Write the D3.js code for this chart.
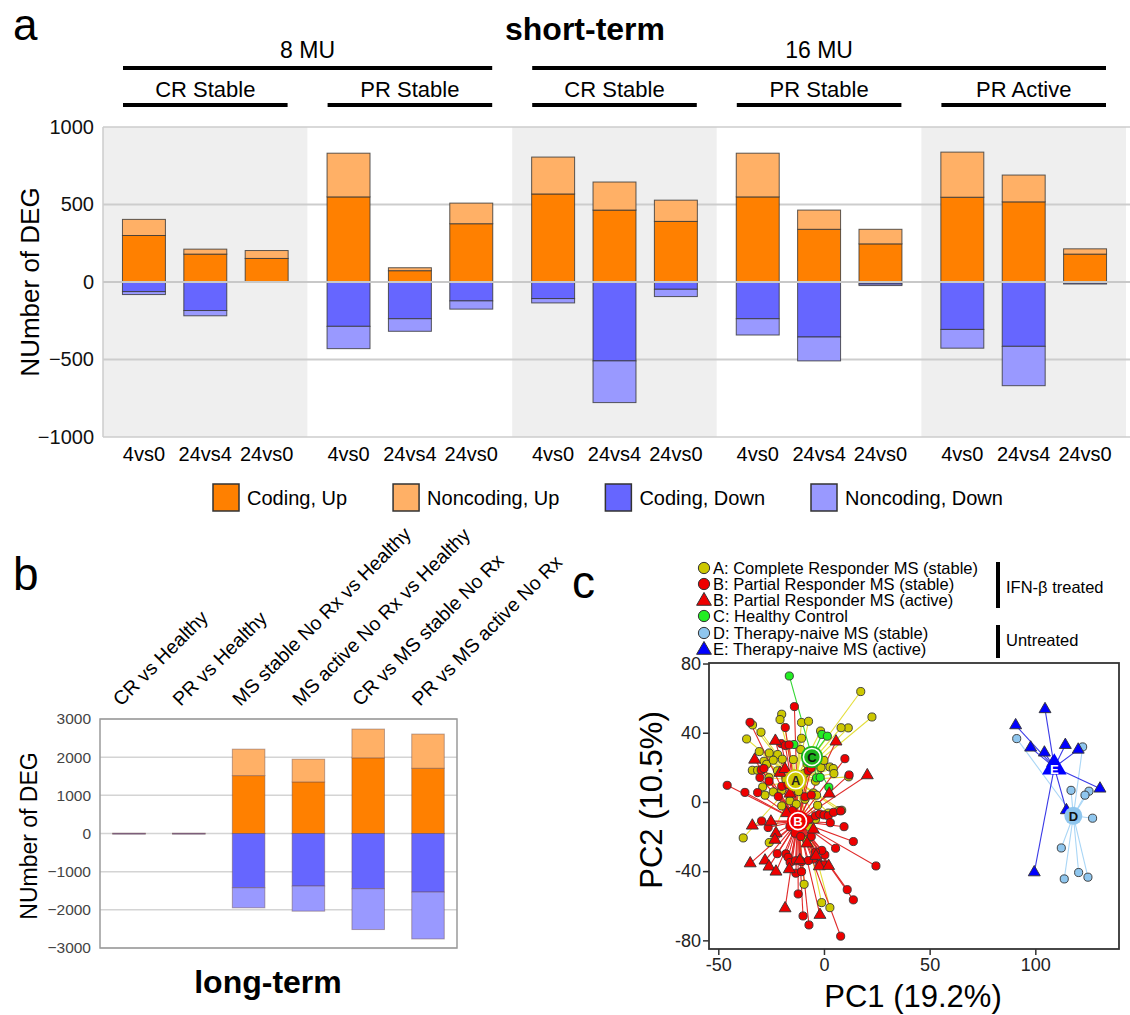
<!DOCTYPE html>
<html>
<head>
<meta charset="utf-8">
<script src="https://cdn.jsdelivr.net/npm/d3@7"></script>
<style>
body { margin: 0; background: #fff; }
text { font-family: "Liberation Sans", Arial, sans-serif; }
</style>
</head>
<body>
<div id="fig"></div>
<script>
var width = 1130, height = 1015;

// ---- panel a : short-term ----
var groups = ["8MU CR", "8MU PR", "16MU CR", "16MU PR", "16MU PRA"];
var groupLabels = ["CR Stable", "PR Stable", "CR Stable", "PR Stable", "PR Active"];
var doseLabels = ["8 MU", "16 MU"];
var doseSpan = [[0, 1], [2, 4]];
var comparisons = ["4vs0", "24vs4", "24vs0"];
var codingUp      = [300, 180, 152,  549,  73, 376,  568, 464, 391,  549, 340, 246,  547, 517, 180];
var noncodingUp   = [104,  32,  51,  282,  19, 133,  238, 181, 137,  282, 124,  94,  291, 173,  34];
var codingDown    = [ 62, 184,   0,  286, 237, 122,  107, 509,  47,  237, 355,  13,  306, 415,   6];
var noncodingDown = [ 19,  34,   0,  144,  81,  53,   28, 269,  47,  105, 154,  10,  121, 254,   7];
var shortTicks = [-1000, -500, 0, 500, 1000];

var seriesNames = ["Coding, Up", "Noncoding, Up", "Coding, Down", "Noncoding, Down"];
var seriesColors = ["#ff8000", "#ffb066", "#6666ff", "#9999ff"];

// ---- panel b : long-term ----
var longCats = ["CR vs Healthy", "PR vs Healthy", "MS stable No Rx vs Healthy",
                "MS active No Rx vs Healthy", "CR vs MS stable No Rx", "PR vs MS active No Rx"];
var longCodingUp      = [8, 8, 1517, 1351, 1982, 1710];
var longNoncodingUp   = [0, 0,  693,  596,  754,  895];
var longCodingDown    = [8, 8, 1421, 1377, 1447, 1535];
var longNoncodingDown = [0, 0,  526,  658, 1070, 1228];
var longTicks = [-3000, -2000, -1000, 0, 1000, 2000, 3000];

// ---- panel c : PCA ----
var ptsA = [[17.4,63.8],[22.7,49.1],[11.5,42.8],[8.1,42.9],[-20.0,50.7],[-20.8,47.6],[-10.6,45.9],[-7.3,46.6],
  [-33.8,44.5],[-29.8,40.3],[-36.6,36.4],[-10.6,36.8],[-1.6,41.0],[-30.6,29.1],[-25.9,28.3],[-21.9,27.4],
  [-33.9,18.3],[-31.4,18.3],[-28.4,23.5],[-27.1,21.8],[-24.0,24.1],[-19.7,24.7],[-14.5,24.5],[-11.0,30.3],
  [2.8,20.2],[4.4,19.3],[4.7,16.4],[11.7,14.5],[-1.4,19.8],[-29.0,8.7],[-27.9,3.9],[-24.0,5.8],[-20.0,6.7],
  [-16.1,9.6],[-5.0,5.2],[-3.5,3.9],[8.4,-4.8],[2.1,-6.4],[-20.0,-2.3],[-16.1,0.6],[-13.1,-1.3],[-38.2,-20.8],
  [-25.9,-23.5],[-13.7,-13.5],[-6.9,-14.5],[-11.4,-33.7],[-9.4,-47.6],[-1.1,-58.2],[2.8,-61.1],[-9.0,1.5],
  [-9.3,16.4],[-18.0,13.0],[-22.0,18.0],[-8.0,22.0],[-4.0,12.0],[0.0,24.0],[-26.0,14.0],[-12.0,6.0],
  [7.0,-5.0],[-4.0,-10.0],[-8.0,-22.0],[-3.0,-2.0]];
var ptsB = [[-14.0,55.1],[-35.0,46.0],[-18.3,43.0],[-20.2,33.7],[-18.3,32.6],[-16.5,33.0],[9.9,25.0],[11.9,15.6],
  [-45.8,9.6],[-37.4,5.5],[-31.4,5.4],[-30.3,14.1],[-29.7,18.5],[-28.4,19.3],[-26.0,12.0],[-21.6,3.1],[-20.0,9.0],
  [-17.0,10.0],[-14.0,16.0],[-7.5,18.0],[-6.0,19.5],[-9.0,3.0],[-6.0,4.0],[-29.5,-11.0],[-26.4,-14.8],
  [-16.1,-14.3],[-13.7,-18.1],[-9.0,-12.0],[-7.0,-10.0],[-4.0,-8.0],[-2.0,-7.0],[0.0,-7.5],[2.0,-8.0],[4.5,-6.0],
  [7.9,-5.2],[9.5,-14.3],[13.9,-22.9],[5.5,-26.8],[0.4,-30.6],[-1.0,-28.0],[-4.0,-29.0],[-5.0,-33.0],[-2.0,-36.0],
  [-22.1,-29.9],[-18.0,-30.0],[-17.0,-32.0],[-16.0,-35.0],[-13.5,-34.0],[-10.6,-34.5],[-7.4,-33.9],[-13.3,-41.2],
  [-10.6,-40.3],[0.0,-36.4],[24.6,-37.0],[-12.2,-53.2],[11.0,-50.7],[13.9,-56.6],[-9.9,-65.9],[-7.1,-71.1],
  [7.9,-77.6],[-15.0,-5.0],[-11.0,-20.0],[-6.0,-20.0],[3.0,-12.0]];
var ptsBact = [[-23.0,35.3],[5.7,34.9],[-32.8,24.4],[-20.8,16.8],[-18.5,19.0],[20.5,15.4],[2.5,4.8],[-16.1,4.8],
  [-33.9,-13.7],[-25.1,-11.4],[-22.7,-18.1],[-23.2,-21.9],[-17.7,-6.5],[-34.9,-35.5],[-27.9,-33.9],[-26.0,-37.4],
  [-22.7,-40.3],[-16.4,-38.9],[-11.4,-33.7],[-3.8,-31.2],[-2.2,-37.2],[2.2,-37.0],[-18.4,-61.5],[-1.9,-65.3],
  [-8.0,-24.0],[-5.0,-16.0]];
var ptsC = [[-16.4,72.8],[-14.2,33.2],[-1.0,39.0],[1.6,38.0],[-3.5,13.9],[-1.8,14.2],[2.3,8.5]];
var ptsD = [[91.2,36.6],[122.4,31.8],[116.9,6.7],[125.4,6.2],[123.5,3.9],[127.1,-9.4],[112.3,-26.6],
  [113.7,-44.5],[120.5,-40.8],[124.9,-43.5]];
var ptsE = [[104.6,53.6],[90.7,44.3],[97.8,31.4],[104.3,28.5],[114.2,32.9],[120.3,30.2],[108.2,22.5],
  [130.6,7.7],[114.7,-4.8],[99.5,-40.7]];
var centroids = {A: [-13.4, 12.5], B: [-12.3, -11.1], C: [-5.7, 26.0], D: [118.0, -8.0], E: [109.0, 20.0]};
var pcaLegend = ["A: Complete Responder MS (stable)", "B: Partial Responder MS (stable)",
  "B: Partial Responder MS (active)", "C: Healthy Control", "D: Therapy-naive MS (stable)",
  "E: Therapy-naive MS (active)"];
var pcaXTicks = [-50, 0, 50, 100];
var pcaYTicks = [-80, -40, 0, 40, 80];

var svg = d3.select("#fig").append("svg")
    .attr("width", width)
    .attr("height", height);

// plain integers, true minus sign for negatives
var fmtMinus = function(d) { return d < 0 ? "\u2212" + (-d) : String(d); };

// stacked segments for one bar: [y0, y1, seriesIndex]
function segments(cu, nu, cd, nd) {
    return [[0, cu, 0], [cu, cu + nu, 1], [-cd, 0, 2], [-cd - nd, -cd, 3]]
        .filter(function(s) { return s[1] - s[0] > 0; });
}

// ================= panel a =================
var xGroup = d3.scaleBand().domain(groups).range([103, 1126]);
var xComp = d3.scaleBand().domain(comparisons).range([0, xGroup.bandwidth()])
    .paddingInner(0.3).paddingOuter(0.317);
var yA = d3.scaleLinear().domain([-1000, 1000]).range([437, 127]);

var gA = svg.append("g");
gA.selectAll("rect.band")
    .data(groups)
    .enter().append("rect")
    .attr("x", d => xGroup(d))
    .attr("y", yA(1000))
    .attr("width", xGroup.bandwidth())
    .attr("height", yA(-1000) - yA(1000))
    .attr("fill", (d, i) => i % 2 == 0 ? "#efefef" : "#fff");

gA.selectAll("line.grid")
    .data(shortTicks)
    .enter().append("line")
    .attr("x1", 103).attr("x2", 1130)
    .attr("y1", d => yA(d)).attr("y2", d => yA(d))
    .style("stroke", "#cdcdcd")
    .style("stroke-width", d => Math.abs(d) == 1000 ? 1.5 : 2);
gA.append("line")
    .attr("x1", 103).attr("x2", 103)
    .attr("y1", yA(1000)).attr("y2", yA(-1000))
    .style("stroke", "#cdcdcd").style("stroke-width", 1.5);

var shortRows = [];
groups.forEach(function(g, gi) {
    comparisons.forEach(function(c, ci) {
        var i = gi * 3 + ci;
        shortRows.push({g: g, c: c, segs: segments(codingUp[i], noncodingUp[i], codingDown[i], noncodingDown[i])});
    });
});

var barsA = gA.selectAll("g.bar")
    .data(shortRows)
    .enter().append("g")
    .attr("transform", d => "translate(" + (xGroup(d.g) + xComp(d.c)) + ",0)");
barsA.selectAll("rect")
    .data(d => d.segs)
    .enter().append("rect")
    .attr("x", 0)
    .attr("width", xComp.bandwidth())
    .attr("y", s => yA(s[1]))
    .attr("height", s => yA(s[0]) - yA(s[1]))
    .style("fill", s => seriesColors[s[2]])
    .style("stroke", "#333")
    .style("stroke-opacity", 0.8)
    .style("stroke-width", 1);

gA.append("line")
    .attr("x1", 103).attr("x2", 1130)
    .attr("y1", yA(0)).attr("y2", yA(0))
    .style("stroke", "#c8c8c8").style("stroke-width", 2);

var axA = gA.append("g")
    .attr("transform", "translate(103,0)")
    .call(d3.axisLeft(yA).tickValues(shortTicks).tickSize(0).tickPadding(9).tickFormat(fmtMinus));
axA.select(".domain").remove();
axA.selectAll("text").style("font-size", "20px").style("fill", "#111")
    .style("font-family", "'Liberation Sans', Arial, sans-serif");

gA.selectAll("text.xlab")
    .data(shortRows)
    .enter().append("text")
    .attr("x", d => xGroup(d.g) + xComp(d.c) + xComp.bandwidth() / 2)
    .attr("y", 461)
    .attr("text-anchor", "middle")
    .style("font-size", "20px")
    .text(d => d.c);

gA.append("text")
    .attr("transform", "translate(39,282) rotate(-90)")
    .attr("text-anchor", "middle")
    .style("font-size", "26px")
    .text("NUmber of DEG");

// group headings
gA.selectAll("line.sub")
    .data(groups)
    .enter().append("line")
    .attr("x1", d => xGroup(d) + 20)
    .attr("x2", d => xGroup(d) + xGroup.bandwidth() - 20)
    .attr("y1", 105).attr("y2", 105)
    .style("stroke", "#000").style("stroke-width", 4);
gA.selectAll("text.sub")
    .data(groups)
    .enter().append("text")
    .attr("x", d => xGroup(d) + xGroup.bandwidth() / 2)
    .attr("y", 97)
    .attr("text-anchor", "middle")
    .style("font-size", "22px")
    .text((d, i) => groupLabels[i]);

gA.selectAll("line.dose")
    .data(doseSpan)
    .enter().append("line")
    .attr("x1", d => xGroup(groups[d[0]]) + 20)
    .attr("x2", d => xGroup(groups[d[1]]) + xGroup.bandwidth() - 20)
    .attr("y1", 68).attr("y2", 68)
    .style("stroke", "#000").style("stroke-width", 4);
gA.selectAll("text.dose")
    .data(doseSpan)
    .enter().append("text")
    .attr("x", d => (xGroup(groups[d[0]]) + xGroup(groups[d[1]]) + xGroup.bandwidth()) / 2)
    .attr("y", 58)
    .attr("text-anchor", "middle")
    .style("font-size", "23px")
    .text((d, i) => doseLabels[i]);

svg.append("text").attr("x", 585).attr("y", 40).attr("text-anchor", "middle")
    .style("font-size", "32px").style("font-weight", "bold").text("short-term");
svg.append("text").attr("x", 13).attr("y", 40)
    .style("font-size", "44px").text("a");

// legend
var lx = 213;
seriesNames.forEach(function(name, i) {
    svg.append("rect")
        .attr("x", lx).attr("y", 484).attr("width", 26).attr("height", 27)
        .style("fill", seriesColors[i]).style("stroke", "#333").style("stroke-width", 1.5);
    var t = svg.append("text")
        .attr("x", lx + 34).attr("y", 505)
        .style("font-size", "20px")
        .text(name);
    lx += 34 + t.node().getComputedTextLength() + 46;
});

// ================= panel b =================
var xB = d3.scaleBand().domain(longCats).range([100, 457]).paddingInner(0.456).paddingOuter(0.213);
var yB = d3.scaleLinear().domain([-3000, 3000]).range([948, 719]);
var gB = svg.append("g");

gB.selectAll("line.grid")
    .data(longTicks)
    .enter().append("line")
    .attr("x1", 100).attr("x2", 457)
    .attr("y1", d => yB(d)).attr("y2", d => yB(d))
    .style("stroke", "#d4d4d4").style("stroke-width", 1.5);

var longRows = longCats.map(function(c, i) {
    return {c: c, segs: segments(longCodingUp[i], longNoncodingUp[i], longCodingDown[i], longNoncodingDown[i])};
});
var barsB = gB.selectAll("g.bar")
    .data(longRows)
    .enter().append("g")
    .attr("transform", d => "translate(" + xB(d.c) + ",0)");
barsB.selectAll("rect")
    .data(d => d.segs)
    .enter().append("rect")
    .attr("x", 0)
    .attr("width", xB.bandwidth())
    .attr("y", s => yB(s[1]))
    .attr("height", s => Math.max(0.6, yB(s[0]) - yB(s[1])))
    .style("fill", s => seriesColors[s[2]])
    .style("stroke", "#6a4a44")
    .style("stroke-opacity", 0.45)
    .style("stroke-width", 1);

gB.append("rect")
    .attr("x", 100).attr("y", 719).attr("width", 357).attr("height", 229)
    .style("fill", "none").style("stroke", "#9a9a9a").style("stroke-width", 1.5);

var axB = gB.append("g")
    .attr("transform", "translate(100,0)")
    .call(d3.axisLeft(yB).tickValues(longTicks).tickSize(0).tickPadding(9).tickFormat(fmtMinus));
axB.select(".domain").remove();
axB.selectAll("text").style("font-size", "15.5px").style("fill", "#444")
    .style("font-family", "'Liberation Sans', Arial, sans-serif");

gB.selectAll("text.cat")
    .data(longCats)
    .enter().append("text")
    .attr("transform", d => "translate(" + (xB(d) + xB.bandwidth() / 2 - 8) + ",707) rotate(-45)")
    .style("font-size", "19.5px")
    .text(d => d);

gB.append("text")
    .attr("transform", "translate(37,836) rotate(-90)")
    .attr("text-anchor", "middle")
    .style("font-size", "23px")
    .text("NUmber of DEG");
svg.append("text").attr("x", 268).attr("y", 993).attr("text-anchor", "middle")
    .style("font-size", "32px").style("font-weight", "bold").text("long-term");
svg.append("text").attr("x", 13).attr("y", 590)
    .style("font-size", "46px").text("b");

// ================= panel c =================
var xC = d3.scaleLinear().domain([-54.4, 139.6]).range([709, 1119]);
var yC = d3.scaleLinear().domain([-85, 80.3]).range([949, 663]);
var gC = svg.append("g");

var colA = "#cdc800", colB = "#ee0000", colC = "#22ee22", colD = "#8fc6ee", colE = "#0000ff";

function spokes(pts, cen, color, w) {
    gC.append("g").selectAll("line")
        .data(pts)
        .enter().append("line")
        .attr("x1", d => xC(d[0])).attr("y1", d => yC(d[1]))
        .attr("x2", xC(cen[0])).attr("y2", yC(cen[1]))
        .style("stroke", color).style("stroke-width", w || 1.1);
}
function dots(pts, color, shape) {
    var sym = d3.symbol().type(shape == "tri" ? d3.symbolTriangle : d3.symbolCircle).size(shape == "tri" ? 62 : 52);
    gC.append("g").selectAll("path")
        .data(pts)
        .enter().append("path")
        .attr("transform", d => "translate(" + xC(d[0]) + "," + yC(d[1]) + ")")
        .attr("d", sym)
        .style("fill", color)
        .style("stroke", "#333")
        .style("stroke-width", 0.9);
}

spokes(ptsA, centroids.A, "#e4de3a");
spokes(ptsC, centroids.C, "#33d633");
spokes(ptsB, centroids.B, "#e02a2a");
spokes(ptsBact, centroids.B, "#e02a2a");
dots(ptsA, colA, "circle");
dots(ptsC, colC, "circle");
dots(ptsB, colB, "circle");
dots(ptsBact, colB, "tri");
spokes(ptsD, centroids.D, "#a9d6f6");
spokes(ptsE, centroids.E, "#3a3ae6");
dots(ptsD, colD, "circle");
dots(ptsE, colE, "tri");

function centroidMark(key, color, txtColor, ring, shape) {
    var p = centroids[key];
    var g = gC.append("g").attr("transform", "translate(" + xC(p[0]) + "," + yC(p[1]) + ")");
    if (shape == "tri") {
        g.append("path").attr("d", d3.symbol().type(d3.symbolTriangle).size(260)).style("fill", color);
    } else {
        if (ring) {
            g.append("circle").attr("r", 11).style("fill", color);
            g.append("circle").attr("r", 8.5).style("fill", color).style("stroke", "#fff").style("stroke-width", 1.6);
        } else {
            g.append("circle").attr("r", 9).style("fill", color);
        }
    }
    g.append("text").attr("y", shape == "tri" ? 7 : 5).attr("text-anchor", "middle")
        .style("font-size", "13px").style("font-weight", "bold").style("fill", txtColor).text(key);
}
centroidMark("A", colA, "#222", true);
centroidMark("C", "#1db41d", "#111", true);
centroidMark("B", colB, "#fff", true);
centroidMark("D", colD, "#111", false);
centroidMark("E", colE, "#fff", false, "tri");

gC.append("rect")
    .attr("x", 709).attr("y", 663).attr("width", 410).attr("height", 286)
    .style("fill", "none").style("stroke", "#333").style("stroke-width", 1.8);

var axCx = gC.append("g")
    .attr("transform", "translate(0,949)")
    .call(d3.axisBottom(xC).tickValues(pcaXTicks).tickSize(6).tickPadding(3).tickFormat(d => String(d)));
var axCy = gC.append("g")
    .attr("transform", "translate(709,0)")
    .call(d3.axisLeft(yC).tickValues(pcaYTicks).tickSize(6).tickPadding(2).tickFormat(d => String(d)));
[axCx, axCy].forEach(function(ax) {
    ax.select(".domain").remove();
    ax.selectAll("line").style("stroke", "#333").style("stroke-width", 1.5);
    ax.selectAll("text").style("font-size", "18px").style("fill", "#222")
        .style("font-family", "'Liberation Sans', Arial, sans-serif");
});

gC.append("text").attr("x", 913).attr("y", 1007).attr("text-anchor", "middle")
    .style("font-size", "31px").text("PC1 (19.2%)");
gC.append("text")
    .attr("transform", "translate(662,800) rotate(-90)")
    .attr("text-anchor", "middle")
    .style("font-size", "31px")
    .text("PC2 (10.5%)");

// legend
var legColors = [colA, colB, colB, colC, colD, colE];
var legShapes = ["circle", "circle", "tri", "circle", "circle", "tri"];
var legY = [568, 584, 600, 616, 633, 649];
pcaLegend.forEach(function(lab, i) {
    var sym = d3.symbol().type(legShapes[i] == "tri" ? d3.symbolTriangle : d3.symbolCircle)
        .size(legShapes[i] == "tri" ? 95 : 100);
    svg.append("path")
        .attr("transform", "translate(704," + (legY[i] + (legShapes[i] == "tri" ? 1 : 0)) + ")")
        .attr("d", sym)
        .style("fill", legColors[i]).style("stroke", "#333").style("stroke-width", 1);
    svg.append("text").attr("x", 713).attr("y", legY[i] + 6)
        .style("font-size", "16.5px").text(lab);
});
svg.append("rect").attr("x", 996).attr("y", 562).attr("width", 4).attr("height", 46).style("fill", "#000");
svg.append("rect").attr("x", 996).attr("y", 625).attr("width", 4).attr("height", 33).style("fill", "#000");
svg.append("text").attr("x", 1006).attr("y", 593).style("font-size", "16.5px").text("IFN-β treated");
svg.append("text").attr("x", 1006).attr("y", 646).style("font-size", "16.5px").text("Untreated");
svg.append("text").attr("x", 572).attr("y", 598)
    .style("font-size", "46px").text("c");
</script>
</body>
</html>
